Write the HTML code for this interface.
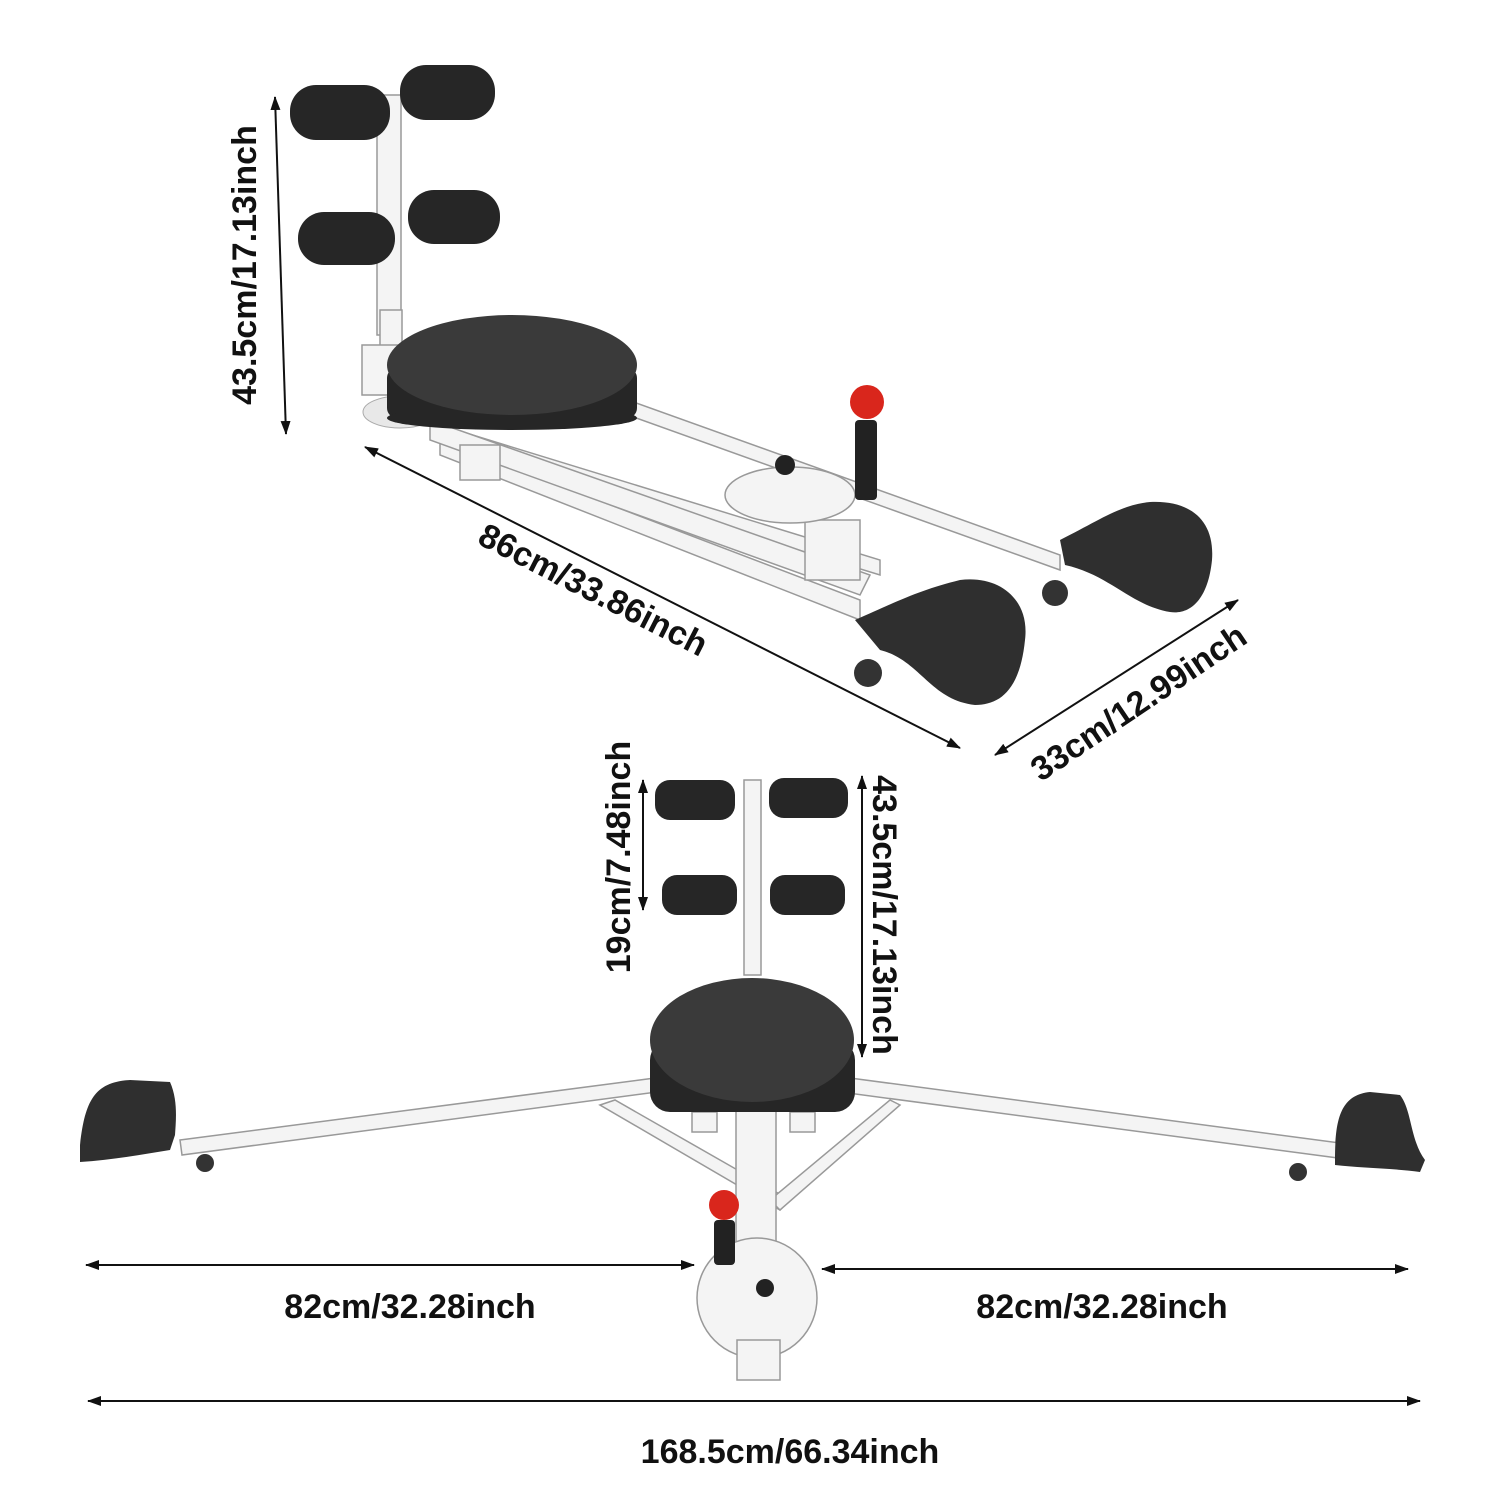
<!DOCTYPE html>
<html><head><meta charset="utf-8"><style>
html,body{margin:0;padding:0;background:#fff;}
svg{display:block;}
text{font-family:"Liberation Sans",sans-serif;font-size:34px;font-weight:bold;fill:#111;}
</style></head><body>
<svg width="1504" height="1504" viewBox="0 0 1504 1504" xmlns="http://www.w3.org/2000/svg">
<defs>
<marker id="a" markerWidth="14" markerHeight="10" refX="13" refY="5" orient="auto" markerUnits="userSpaceOnUse">
<path d="M0,0 L14,5 L0,10 Z" fill="#111"/></marker>
<marker id="b" markerWidth="14" markerHeight="10" refX="1" refY="5" orient="auto" markerUnits="userSpaceOnUse">
<path d="M14,0 L0,5 L14,10 Z" fill="#111"/></marker>
</defs>
<g stroke="#111" stroke-width="2" fill="none">
<line x1="275" y1="97" x2="286" y2="434" marker-start="url(#b)" marker-end="url(#a)"/>
<line x1="365" y1="447" x2="960" y2="748" marker-start="url(#b)" marker-end="url(#a)"/>
<line x1="995" y1="755" x2="1238" y2="600" marker-start="url(#b)" marker-end="url(#a)"/>
<line x1="643" y1="780" x2="643" y2="910" marker-start="url(#b)" marker-end="url(#a)"/>
<line x1="862" y1="776" x2="862" y2="1057" marker-start="url(#b)" marker-end="url(#a)"/>
<line x1="86" y1="1265" x2="694" y2="1265" marker-start="url(#b)" marker-end="url(#a)"/>
<line x1="822" y1="1269" x2="1408" y2="1269" marker-start="url(#b)" marker-end="url(#a)"/>
<line x1="88" y1="1401" x2="1420" y2="1401" marker-start="url(#b)" marker-end="url(#a)"/>
</g>
<text x="0" y="0" text-anchor="middle" transform="translate(256,265) rotate(-90)">43.5cm/17.13inch</text>
<text x="0" y="0" text-anchor="middle" transform="translate(588,600) rotate(27)">86cm/33.86inch</text>
<text x="0" y="0" text-anchor="middle" transform="translate(1145,712) rotate(-34)">33cm/12.99inch</text>
<text x="0" y="0" text-anchor="middle" transform="translate(630,857) rotate(-90)">19cm/7.48inch</text>
<text x="0" y="0" text-anchor="middle" transform="translate(873,915) rotate(90)">43.5cm/17.13inch</text>
<text x="410" y="1318" text-anchor="middle">82cm/32.28inch</text>
<text x="1102" y="1318" text-anchor="middle">82cm/32.28inch</text>
<text x="790" y="1463" text-anchor="middle">168.5cm/66.34inch</text>

<g stroke="#999" stroke-width="1.5" fill="#f4f4f4">
<rect x="377" y="95" width="24" height="240"/>
<rect x="380" y="310" width="22" height="40"/>
<rect x="362" y="345" width="40" height="50"/>
<polygon points="440,425 880,560 880,575 440,440"/>
<polygon points="440,440 860,600 860,620 440,455"/>
<polygon points="600,390 1060,555 1060,570 600,405"/>
<polygon points="430,420 870,575 860,595 430,440"/>
<rect x="460" y="445" width="40" height="35"/>
<rect x="805" y="520" width="55" height="60"/>
<ellipse cx="790" cy="495" rx="65" ry="28"/>
</g>
<ellipse cx="400" cy="412" rx="37" ry="16" fill="#e8e8e8" stroke="#aaa"/>
<g fill="#262626">
<rect x="290" y="85" width="100" height="55" rx="26"/>
<rect x="400" y="65" width="95" height="55" rx="26"/>
<rect x="298" y="212" width="97" height="53" rx="26"/>
<rect x="408" y="190" width="92" height="54" rx="26"/>
<rect x="387" y="368" width="250" height="50" rx="10"/>
<ellipse cx="512" cy="418" rx="125" ry="12"/>
</g>
<ellipse cx="512" cy="365" rx="125" ry="50" fill="#3a3a3a"/>
<rect x="855" y="420" width="22" height="80" rx="4" fill="#222"/>
<circle cx="867" cy="402" r="17" fill="#d9261c"/>
<circle cx="785" cy="465" r="10" fill="#222"/>
<path d="M855,620 C900,600 920,590 960,580 C1000,575 1030,600 1025,640 C1020,690 1000,705 975,705 C930,700 920,660 880,650 Z" fill="#2f2f2f"/>
<path d="M1060,540 C1100,520 1120,505 1150,502 C1190,500 1215,520 1212,560 C1208,600 1190,615 1170,612 C1130,605 1110,575 1065,565 Z" fill="#2f2f2f"/>
<circle cx="868" cy="673" r="14" fill="#333"/>
<circle cx="1055" cy="593" r="13" fill="#333"/>

<g stroke="#999" stroke-width="1.5" fill="#f4f4f4">
<rect x="744" y="780" width="17" height="195"/>
<polygon points="180,1140 655,1078 657,1092 182,1155"/>
<polygon points="850,1078 1340,1143 1338,1158 848,1093"/>
<polygon points="600,1105 615,1100 790,1200 780,1210"/>
<polygon points="900,1105 890,1100 770,1200 780,1210"/>
<rect x="736" y="1110" width="40" height="190"/>
<circle cx="757" cy="1298" r="60"/>
<rect x="737" y="1340" width="43" height="40"/>
<rect x="692" y="1112" width="25" height="20"/>
<rect x="790" y="1112" width="25" height="20"/>
</g>
<g fill="#262626">
<rect x="655" y="780" width="80" height="40" rx="15"/>
<rect x="769" y="778" width="79" height="40" rx="15"/>
<rect x="662" y="875" width="75" height="40" rx="15"/>
<rect x="770" y="875" width="75" height="40" rx="15"/>
<rect x="650" y="1040" width="205" height="72" rx="20"/>
</g>
<ellipse cx="752" cy="1040" rx="102" ry="62" fill="#3a3a3a"/>
<rect x="714" y="1220" width="21" height="45" rx="4" fill="#222"/>
<circle cx="724" cy="1205" r="15" fill="#d9261c"/>
<circle cx="765" cy="1288" r="9" fill="#222"/>
<path d="M80,1145 C85,1100 95,1082 130,1080 L170,1082 C178,1100 176,1120 175,1135 L170,1150 C140,1155 110,1160 80,1162 Z" fill="#2f2f2f"/>
<path d="M1335,1160 C1335,1120 1340,1095 1370,1092 L1400,1095 C1412,1110 1410,1140 1425,1160 L1420,1172 C1390,1168 1360,1168 1335,1165 Z" fill="#2f2f2f"/>
<circle cx="205" cy="1163" r="9" fill="#333"/>
<circle cx="1298" cy="1172" r="9" fill="#333"/>
</svg>
</body></html>
